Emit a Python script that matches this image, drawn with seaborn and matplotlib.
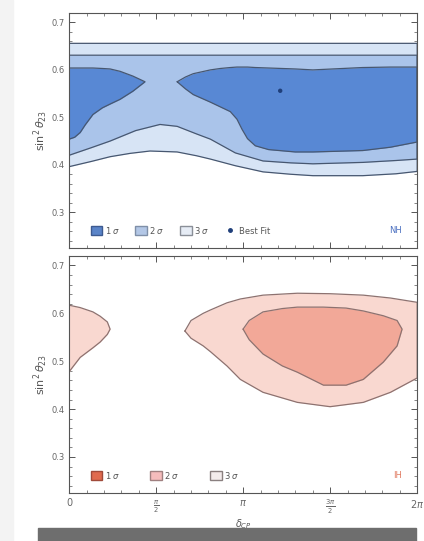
import numpy as np
import matplotlib
matplotlib.use('Agg')
import matplotlib.pyplot as plt
import seaborn as sns
from matplotlib.patches import Patch, Rectangle
from matplotlib.lines import Line2D
from matplotlib.ticker import MultipleLocator

# ---- NH (normal hierarchy) regions ----
nh3_delta = [0.0, 0.4, 0.74, 1.1, 1.46, 1.95, 2.3, 2.55, 3.0, 3.5, 4.0, 4.4, 5.3, 5.9, 6.283]
nh3_upper = [0.656, 0.656, 0.656, 0.656, 0.656, 0.656, 0.656, 0.656, 0.656, 0.656, 0.656, 0.656, 0.656, 0.656, 0.656]
nh3_lower = [0.396, 0.407, 0.417, 0.424, 0.429, 0.427, 0.419, 0.412, 0.398, 0.385, 0.380, 0.377, 0.377, 0.381, 0.386]

nh2_delta = [0.0, 0.4, 0.74, 1.2, 1.64, 1.95, 2.3, 2.55, 3.0, 3.5, 4.0, 4.4, 5.3, 5.9, 6.283]
nh2_upper = [0.631, 0.631, 0.631, 0.631, 0.631, 0.631, 0.631, 0.631, 0.631, 0.631, 0.631, 0.631, 0.631, 0.631, 0.631]
nh2_lower = [0.420, 0.436, 0.450, 0.472, 0.485, 0.481, 0.465, 0.454, 0.425, 0.408, 0.404, 0.402, 0.405, 0.409, 0.412]

nh1a_delta = [0.0, 0.1, 0.2, 0.29, 0.43, 0.6, 0.74, 0.92, 1.15, 1.37]
nh1a_upper = [0.604, 0.604, 0.604, 0.604, 0.604, 0.603, 0.602, 0.597, 0.587, 0.575]
nh1a_lower = [0.454, 0.458, 0.468, 0.484, 0.506, 0.520, 0.528, 0.538, 0.555, 0.575]

nh1b_delta = [1.95, 2.1, 2.24, 2.55, 2.73, 2.91, 3.03, 3.12, 3.22, 3.36, 3.6, 4.08, 4.4, 5.3, 5.8, 6.283]
nh1b_upper = [0.575, 0.585, 0.592, 0.600, 0.603, 0.605, 0.606, 0.606, 0.606, 0.605, 0.604, 0.602, 0.600, 0.605, 0.606, 0.606]
nh1b_lower = [0.575, 0.560, 0.548, 0.532, 0.522, 0.512, 0.496, 0.475, 0.455, 0.440, 0.432, 0.427, 0.427, 0.430, 0.437, 0.448]

best_fit_delta = [3.81]
best_fit_s23 = [0.556]

# ---- IH (inverted hierarchy) regions ----
ih2a_delta = [0.0, 0.2, 0.43, 0.56, 0.69, 0.74]
ih2a_upper = [0.617, 0.612, 0.603, 0.594, 0.582, 0.567]
ih2a_lower = [0.478, 0.508, 0.528, 0.540, 0.556, 0.567]

ih2b_delta = [2.09, 2.2, 2.42, 2.55, 2.85, 3.09, 3.5, 4.12, 4.71, 5.31, 5.8, 6.283]
ih2b_upper = [0.563, 0.585, 0.600, 0.607, 0.622, 0.630, 0.638, 0.642, 0.641, 0.638, 0.632, 0.623]
ih2b_lower = [0.563, 0.548, 0.532, 0.520, 0.490, 0.462, 0.435, 0.414, 0.405, 0.414, 0.435, 0.465]

ih1_delta = [3.14, 3.25, 3.5, 3.85, 4.12, 4.59, 5.0, 5.31, 5.67, 5.92, 6.01]
ih1_upper = [0.567, 0.585, 0.603, 0.610, 0.613, 0.613, 0.611, 0.605, 0.595, 0.585, 0.567]
ih1_lower = [0.567, 0.545, 0.515, 0.490, 0.477, 0.450, 0.450, 0.462, 0.498, 0.532, 0.567]

xtick_vals = [0, np.pi / 2, np.pi, 3 * np.pi / 2, 2 * np.pi]
xtick_labels = ['0', r'$\frac{\pi}{2}$', r'$\pi$', r'$\frac{3\pi}{2}$', r'$2\pi$']
ytick_vals = [0.3, 0.4, 0.5, 0.6, 0.7]

blue = {'1': '#5888d4', '2': '#aac4ea', '3': '#d7e4f5', 'line': '#475770'}
red = {'1': '#f2a898', '2': '#f9d8d0', 'line': '#8d7270'}


def region(ax, d, up, lo, fill, line):
    ax.fill_between(d, lo, up, color=fill, lw=0, zorder=1)
    poly_x = list(d) + list(d[::-1]) + [d[0]]
    poly_y = list(up) + list(lo[::-1]) + [up[0]]
    sns.lineplot(x=poly_x, y=poly_y, sort=False, estimator=None, ax=ax,
                 color=line, lw=0.9, zorder=2)


def style_axes(ax):
    ax.set_xlim(0, 2 * np.pi)
    ax.set_ylim(0.225, 0.72)
    ax.set_xticks(xtick_vals)
    ax.xaxis.set_minor_locator(MultipleLocator(np.pi / 10))
    ax.set_yticks(ytick_vals)
    ax.yaxis.set_minor_locator(MultipleLocator(0.02))
    ax.tick_params(which='both', direction='in', top=True, right=True,
                   labelsize=6, colors='#555555', labelcolor='#666666')
    ax.tick_params(which='major', length=4, width=0.7)
    ax.tick_params(which='minor', length=2, width=0.5)
    for s in ax.spines.values():
        s.set_color('#555555')
        s.set_linewidth(0.8)
    ax.set_ylabel(r'$\sin^2\theta_{23}$', fontsize=8, color='#555555', labelpad=1)


sns.set_theme(style='ticks')
plt.rcParams['font.family'] = ['DejaVu Sans']

fig = plt.figure(figsize=(4.24, 5.41), dpi=100)
fig.patch.set_facecolor('white')
fig.patches.append(Rectangle((0, 0), 0.03, 1, transform=fig.transFigure,
                             color='#f3f3f3', zorder=0))
fig.patches.append(Rectangle((0.09, 0), 0.89, 0.024, transform=fig.transFigure,
                             color='#6e6e6e', zorder=0))

ax1 = fig.add_axes([0.163, 0.542, 0.821, 0.434])
ax2 = fig.add_axes([0.163, 0.089, 0.821, 0.438])

# top panel: NH
region(ax1, nh3_delta, nh3_upper, nh3_lower, blue['3'], blue['line'])
region(ax1, nh2_delta, nh2_upper, nh2_lower, blue['2'], blue['line'])
region(ax1, nh1a_delta, nh1a_upper, nh1a_lower, blue['1'], blue['line'])
region(ax1, nh1b_delta, nh1b_upper, nh1b_lower, blue['1'], blue['line'])
sns.scatterplot(x=best_fit_delta, y=best_fit_s23, ax=ax1, color='#1f3f7a',
                s=10, edgecolor='none', zorder=5)
style_axes(ax1)
ax1.set_xticklabels([])

h1 = [Patch(facecolor='#5a84c8', edgecolor='#3d5a90', label=r'1 $\sigma$'),
      Patch(facecolor='#b3c7e6', edgecolor='#7f8fa8', label=r'2 $\sigma$'),
      Patch(facecolor='#e6ecf5', edgecolor='#8a8f98', label=r'3 $\sigma$'),
      Line2D([], [], marker='o', ls='none', color='#1f3f7a', markersize=2.5,
             label='Best Fit')]
ax1.legend(handles=h1, loc='lower left', bbox_to_anchor=(0.04, 0.02), ncol=4,
           frameon=False, fontsize=6, handlelength=1.4, handleheight=1.3,
           handletextpad=0.3, columnspacing=1.8, labelcolor='#555555')
ax1.text(0.955, 0.075, 'NH', transform=ax1.transAxes, fontsize=6,
         color='#4a6fc0', ha='right', va='center')

# bottom panel: IH
region(ax2, ih2a_delta, ih2a_upper, ih2a_lower, red['2'], red['line'])
region(ax2, ih2b_delta, ih2b_upper, ih2b_lower, red['2'], red['line'])
region(ax2, ih1_delta, ih1_upper, ih1_lower, red['1'], red['line'])
style_axes(ax2)
ax2.set_xticklabels(xtick_labels, fontsize=7)
ax2.set_xlabel(r'$\delta_{CP}$', fontsize=7, color='#555555', labelpad=1)

h2 = [Patch(facecolor='#e06a4e', edgecolor='#a04a3a', label=r'1 $\sigma$'),
      Patch(facecolor='#f5bcbc', edgecolor='#a08080', label=r'2 $\sigma$'),
      Patch(facecolor='#f3ecec', edgecolor='#8a8080', label=r'3 $\sigma$')]
ax2.legend(handles=h2, loc='lower left', bbox_to_anchor=(0.04, 0.02), ncol=3,
           frameon=False, fontsize=6, handlelength=1.4, handleheight=1.3,
           handletextpad=0.3, columnspacing=3.6, labelcolor='#555555')
ax2.text(0.955, 0.075, 'IH', transform=ax2.transAxes, fontsize=6,
         color='#e07a60', ha='right', va='center')

fig.savefig('out.png', dpi=100)
